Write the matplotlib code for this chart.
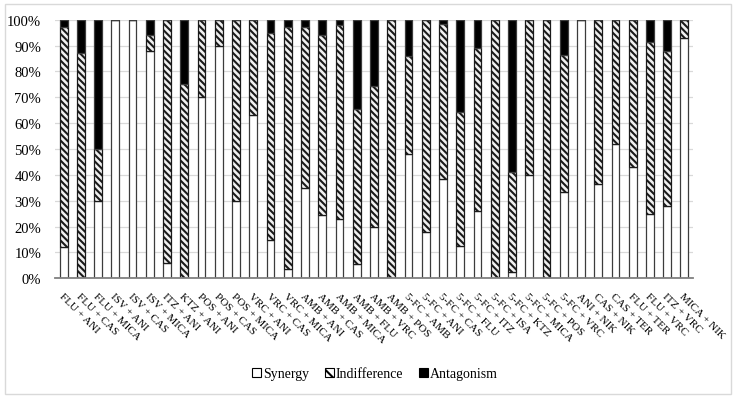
import matplotlib
matplotlib.use("Agg")
import matplotlib.pyplot as plt
from matplotlib.patches import Rectangle, Patch
import numpy as np

categories = ["FLU + ANI", "FLU + CAS", "FLU + MICA", "ISV + ANI", "ISV + CAS", "ISV + MICA",
              "ITZ + ANI", "KTZ + ANI", "POS + ANI", "POS + CAS", "POS + MICA", "VRC + ANI",
              "VRC + CAS", "VRC + MICA", "AMB + ANI", "AMB + CAS", "AMB + MICA", "AMB + FLU",
              "AMB + VRC", "AMB + POS", "5-FC + AMB", "5-FC + ANI", "5-FC + CAS", "5-FC + FLU",
              "5-FC + ITZ", "5-FC + ISA", "5-FC + KTZ", "5-FC + MICA", "5-FC + POS", "5-FC + VRC",
              "ANI + NIK", "CAS + NIK", "CAS + TER", "FLU + TER", "FLU + VRC", "ITZ + VRC", "MICA + NIK"]
synergy = [12, 0, 30, 100, 100, 88, 6, 0, 70, 90, 30, 63,
           15, 3.5, 35, 24.5, 23, 5.5, 20, 0, 48, 18, 38.5, 12.5,
           26, 0, 2.5, 40, 0, 33.5, 100, 36.5, 52, 43, 25, 28, 93]
indifference = [85, 87, 20, 0, 0, 6, 94, 75, 30, 10, 70, 37,
                80, 93.5, 62, 69.5, 75, 60, 54.5, 100, 38, 82, 60, 52,
                63, 100, 38.5, 60, 100, 53, 0, 63.5, 48, 57, 66.5, 60, 7]
antagonism = [3, 13, 50, 0, 0, 6, 0, 25, 0, 0, 0, 0,
              5, 3, 3, 6, 2, 34.5, 25.5, 0, 14, 0, 1.5, 35.5,
              11, 0, 59, 0, 0, 13.5, 0, 0, 0, 0, 8.5, 12, 0]
yticks = [0, 10, 20, 30, 40, 50, 60, 70, 80, 90, 100]

plt.rcParams['font.family'] = ['Liberation Serif', 'DejaVu Serif']
plt.rcParams['hatch.linewidth'] = 1.5

fig = plt.figure(figsize=(7.37, 4.02), dpi=100)
ax = fig.add_axes([55/737, 122.7/402, 638/737, 258.6/402])

x = np.arange(len(categories))
syn = np.array(synergy, float)
ind = np.array(indifference, float)
ant = np.array(antagonism, float)
w = 0.45
ec = '#3c3c3c'
hatch = '\\\\\\\\\\'
ax.bar(x, syn, w, color='white', edgecolor=ec, linewidth=0.9, zorder=3)
ax.bar(x, ind, w, bottom=syn, color='#f0f0f0', edgecolor='#1a1a1a', hatch=hatch, linewidth=0.9, zorder=3)
ax.bar(x, ant, w, bottom=syn + ind, color='black', edgecolor=ec, linewidth=0.9, zorder=3)

ax.set_xlim(-0.5, len(categories) - 0.5)
ax.set_ylim(0, 100)
ax.set_yticks(yticks)
ax.set_yticklabels([f"{v}%" for v in yticks], fontsize=10.5)
ax.yaxis.grid(True, color='#d9d9d9', linewidth=0.9, zorder=0)
ax.set_axisbelow(True)
for s in ['top', 'right', 'left']:
    ax.spines[s].set_visible(False)
ax.spines['bottom'].set_color('#808080')
ax.spines['bottom'].set_linewidth(1.3)
ax.spines['bottom'].set_zorder(4)
ax.tick_params(axis='y', length=0, pad=10)
ax.tick_params(axis='x', length=0, pad=9)
ax.set_xticks(x)
ax.set_xticklabels(categories, rotation=-45, ha='left', va='top', rotation_mode='anchor', fontsize=8)

handles = [Patch(facecolor='white', edgecolor='black', linewidth=0.8, label='Synergy'),
           Patch(facecolor='white', edgecolor='black', hatch='\\\\\\', linewidth=0.8, label='Indifference'),
           Patch(facecolor='black', edgecolor='black', linewidth=0.8, label='Antagonism')]
fig.legend(handles=handles, loc='center', bbox_to_anchor=(375/737, 1 - 375/402), ncol=3, frameon=False,
           fontsize=10, handlelength=0.65, handleheight=0.65, handletextpad=0.15, columnspacing=1.1)

fig.patches.append(Rectangle((5/737, 7/402), 726/737, 390/402, transform=fig.transFigure,
                             fill=False, edgecolor='#d9d9d9', linewidth=1.0))

fig.savefig('out.png', dpi=100)
